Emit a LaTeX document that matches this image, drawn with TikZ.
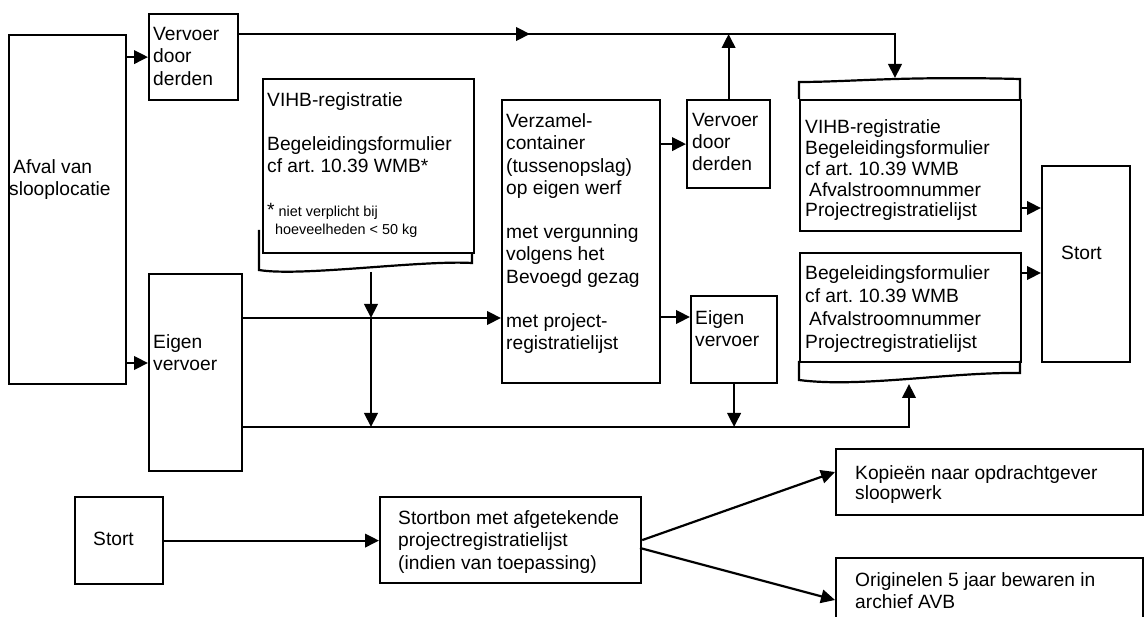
\documentclass[tikz,border=0pt]{standalone}
\usepackage{fontspec}
\setmainfont{Liberation Sans}
\usetikzlibrary{arrows.meta}
\frenchspacing
\begin{document}
\begin{tikzpicture}[x=1pt,y=-1pt,
  box/.style={draw, line width=2.2pt, inner sep=0pt, anchor=north west},
  ln/.style={line width=2.2pt},
  arr/.style={line width=2.2pt,-{Triangle[length=14pt,width=13.5pt]}},
  txt/.style={anchor=north west, inner sep=0pt, align=left, font=\fontsize{19.2}{22}\selectfont\frenchspacing},
]
\useasboundingbox (0,0) rectangle (1144,617);

% boxes
\node[box, minimum width=117pt, minimum height=349pt] (afval) at (8,34) {};
\node[box, minimum width=89pt, minimum height=86pt] (vdd1) at (148,13) {};
\node[box, minimum width=93pt, minimum height=197pt] (eigen1) at (148,273) {};
\draw[ln] (259,230) -- (259,270) .. controls (300,277) and (420,260) .. (472,263) -- (472,252);
\node[box, fill=white, minimum width=211pt, minimum height=174pt] (vihb1) at (262,78) {};
\node[box, minimum width=158pt, minimum height=283pt] (verz) at (501,99) {};
\node[box, minimum width=83pt, minimum height=88pt] (vdd2) at (686,99) {};
\node[box, minimum width=86pt, minimum height=87pt] (eigen2) at (690,295) {};
\draw[ln] (799,99) -- (799,82) .. controls (850,82) and (900,76) .. (1020,79) -- (1020,99);
\node[box, minimum width=221pt, minimum height=131pt] (vihb2) at (799,99) {};
\node[box, minimum width=221pt, minimum height=109pt] (begel) at (799,252) {};
\draw[ln] (799,361) -- (799,380) .. controls (860,388) and (950,372) .. (1020,373) -- (1020,361);
\node[box, minimum width=88pt, minimum height=196pt] (stort) at (1041,165) {};
\node[box, minimum width=88pt, minimum height=87pt] (stortb) at (74,496) {};
\node[box, minimum width=261pt, minimum height=86pt] (stortbon) at (379,496) {};
\node[box, minimum width=307pt, minimum height=66pt] (kopie) at (835,448) {};
\node[box, minimum width=307pt, minimum height=70pt] (orig) at (835,557) {};

% coordinates
\coordinate (topbend) at (895,34);
\coordinate (vihb2top) at (895,78);
\coordinate (midA) at (530,34);
\coordinate (e1in) at (148,363);
\coordinate (j1) at (371,318);
\coordinate (vihb1b) at (371,272);
\coordinate (bot) at (371,427);
\coordinate (begelb) at (909,384);
\coordinate (e2in) at (690,317);
\coordinate (s1) at (1041,208);
\coordinate (s2) at (1041,273);
\coordinate (kin) at (835,472);
\coordinate (bo) at (640,548);
\coordinate (oin) at (835,600);

% connectors
\draw[arr] (afval.east |- vdd1.west) -- (vdd1.west);
\draw[arr] (afval.east |- e1in) -- (e1in);
\draw[arr] (vdd1.east |- topbend) -- (topbend) -- (vihb2top);
\draw[arr] (vdd1.east |- topbend) -- (midA);
\draw[arr] (vdd2.north) -- (vdd2.north |- topbend);
\draw[arr] (verz.east |- vdd2.west) -- (vdd2.west);
\draw[arr] (eigen1.east |- j1) -- (verz.west |- j1);
\draw[arr] (vihb1b) -- (j1);
\draw[arr] (j1) -- (bot);
\draw[arr] (eigen1.east |- bot) -| (begelb);
\draw[arr] (eigen2.south) -- (eigen2.south |- bot);
\draw[arr] (verz.east |- e2in) -- (e2in);
\draw[arr] (vihb2.east |- s1) -- (s1);
\draw[arr] (begel.east |- s2) -- (s2);
\draw[arr] (stortb.east) -- (stortbon.west |- stortb.east);
\draw[arr] (stortbon.east) -- (kin);
\draw[arr] (bo) -- (oin);

% texts
\node[txt] (afvalt) at (9,159.5) {\hspace*{4pt}Afval van\\slooplocatie};
\node[txt, font=\fontsize{19.2}{22.5}\selectfont] (vdd1t) at (153,27) {Vervoer\\door\\derden};
\node[txt] (vihb1t) at (267,92.5) {VIHB-registratie\\[22pt]Begeleidingsformulier\\cf art. 10.39 WMB*};
\node[txt, font=\fontsize{14.4}{17.6}\selectfont] (vihb1n) at (267,203) {{\fontsize{19.2}{17.6}\selectfont*} niet verplicht bij\\\hspace*{8pt}hoeveelheden < 50 kg};
\node[txt, font=\fontsize{19.2}{22.2}\selectfont] (verzt) at (506,113.5) {Verzamel-\\container\\(tussenopslag)\\op eigen werf\\[22.2pt]met vergunning\\volgens het\\Bevoegd gezag\\[22.2pt]met project-\\registratielijst};
\node[txt] (vdd2t) at (692,113.5) {Vervoer\\door\\derden};
\node[txt, font=\fontsize{19.2}{20.8}\selectfont] (vihb2t) at (805,119.5) {VIHB-registratie\\Begeleidingsformulier\\cf art. 10.39 WMB\\\hspace*{4pt}Afvalstroomnummer\\Projectregistratielijst};
\node[txt, font=\fontsize{19.2}{22.8}\selectfont] (begelt) at (805,265.5) {Begeleidingsformulier\\cf art. 10.39 WMB\\\hspace*{4pt}Afvalstroomnummer\\Projectregistratielijst};
\node[txt] (stortt) at (1061,246) {Stort};
\node[txt] (eigen1t) at (153,334) {Eigen\\vervoer};
\node[txt] (eigen2t) at (695,310.7) {Eigen\\vervoer};
\node[txt] (stortbt) at (93,531.7) {Stort};
\node[txt, font=\fontsize{19.2}{22.5}\selectfont] (stortbont) at (398,510) {Stortbon met afgetekende\\projectregistratielijst\\(indien van toepassing)};
\node[txt, font=\fontsize{19.2}{20}\selectfont] (kopiet) at (855,465) {Kopieën naar opdrachtgever\\sloopwerk};
\node[txt] (origt) at (855,572) {Originelen 5 jaar bewaren in\\archief AVB};
\end{tikzpicture}
\end{document}
